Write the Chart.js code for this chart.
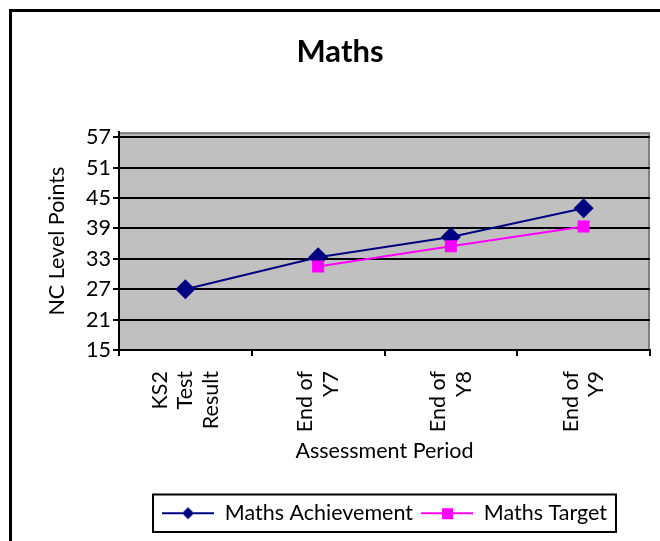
<!DOCTYPE html>
<html>
<head>
<meta charset="utf-8">
<title>Maths</title>
<script src="https://cdn.jsdelivr.net/npm/chart.js@4.4.1/dist/chart.umd.min.js"></script>
<style>
    html, body { margin: 0; padding: 0; background: #fff; overflow: hidden; }
    #frame {
        position: absolute; left: 9px; top: 9px;
        width: 660px; height: 540px;
        border-top: 3px solid #000; border-left: 3px solid #000;
    }
    #chart { display: block; }
</style>
</head>
<body>
<div id="frame"><canvas id="chart" width="648" height="529"></canvas></div>
<script>
// chart data
const periods = [['KS2', 'Test', 'Result'], ['End of', 'Y7'], ['End of', 'Y8'], ['End of', 'Y9']];
const achievement = [27, 33.3, 37.3, 43];
const target = [null, 31.5, 35.5, 39.4];
const yTicks = [15, 21, 27, 33, 39, 45, 51, 57];

const NAVY = '#000080';
const PINK = '#ff00ff';
const TEXT_SIZE = 21.5;

Chart.defaults.font.family = 'Lato';
Chart.defaults.color = '#000';

// little line + marker pictures for the legend
function legendIcon(color, shape) {
    const c = document.createElement('canvas');
    c.width = 52;
    c.height = 20;
    const g = c.getContext('2d');
    g.strokeStyle = color;
    g.lineWidth = 2;
    g.beginPath();
    g.moveTo(0, 10);
    g.lineTo(52, 10);
    g.stroke();
    g.fillStyle = color;
    if (shape === 'diamond') {
        g.beginPath();
        g.moveTo(26, 4); g.lineTo(32, 10); g.lineTo(26, 16); g.lineTo(20, 10);
        g.closePath();
        g.fill();
    } else {
        g.fillRect(21, 5, 11, 11);
    }
    return c;
}
const icons = [legendIcon(NAVY, 'diamond'), legendIcon(PINK, 'square')];

const plotBackground = {
    id: 'plotBackground',
    beforeDraw(chart) {
        const { ctx, chartArea: a } = chart;
        ctx.save();
        ctx.fillStyle = '#c0c0c0';
        ctx.fillRect(a.left, a.top, a.right - a.left, a.bottom - a.top);
        ctx.strokeStyle = '#808080';
        ctx.lineWidth = 2;
        ctx.strokeRect(a.left, a.top + 1, a.right - a.left - 1, a.bottom - a.top - 1);
        ctx.restore();

        // centre the wrapped (rotated) category labels on their category
        const x = chart.scales.x;
        const lh = x.options.ticks.font.size * 1.2;
        x.getLabelItems().forEach(item => {
            if (item._centred) return;
            const n = Array.isArray(item.label) ? item.label.length : 1;
            item.options.translation[0] -= (n - 1) * lh / 2;
            item._centred = true;
        });
    }
};

const legendFrame = {
    id: 'legendFrame',
    afterDraw(chart) {
        const boxes = chart.legend.legendHitBoxes;
        if (!boxes || !boxes.length) return;
        const first = boxes[0];
        const last = boxes[boxes.length - 1];
        const { ctx } = chart;
        ctx.save();
        ctx.strokeStyle = '#000';
        ctx.lineWidth = 2;
        ctx.strokeRect(first.left - 9, first.top - 8,
            last.left + last.width - first.left + 18, first.height + 16);
        ctx.restore();
    }
};

const ctx = document.getElementById('chart').getContext('2d');
new Chart(ctx, {
    type: 'line',
    data: {
        labels: periods,
        datasets: [
            {
                label: 'Maths Achievement',
                data: achievement,
                borderColor: NAVY,
                backgroundColor: NAVY,
                borderWidth: 2,
                pointStyle: 'rectRot',
                pointRadius: 10,
                pointBorderWidth: 0,
                order: 1
            },
            {
                label: 'Maths Target',
                data: target,
                borderColor: PINK,
                backgroundColor: PINK,
                borderWidth: 2,
                pointStyle: 'rect',
                pointRadius: 8.5,
                pointBorderWidth: 0,
                order: 0
            }
        ]
    },
    options: {
        responsive: false,
        animation: false,
        layout: { padding: { left: 17, right: 9, top: 0, bottom: 7 } },
        plugins: {
            title: {
                display: true,
                text: 'Maths',
                font: { size: 31, weight: 'bold' },
                padding: { top: 21, bottom: 62 }
            },
            legend: {
                position: 'bottom',
                fullSize: false,
                labels: {
                    usePointStyle: true,
                    pointStyleWidth: 52,
                    padding: 8,
                    font: { size: TEXT_SIZE },
                    generateLabels: chart => chart.data.datasets.map((ds, i) => ({
                        text: ds.label,
                        pointStyle: icons[i],
                        fillStyle: ds.borderColor,
                        strokeStyle: ds.borderColor,
                        lineWidth: 0,
                        hidden: false,
                        datasetIndex: i,
                        fontColor: '#000'
                    }))
                }
            },
            tooltip: { enabled: false }
        },
        scales: {
            x: {
                offset: true,
                grid: { offset: true, drawOnChartArea: false, color: '#000', lineWidth: 2, tickLength: 6 },
                border: { color: '#000', width: 2 },
                ticks: { minRotation: 90, maxRotation: 90, autoSkip: false, padding: 15, font: { size: TEXT_SIZE } },
                title: { display: true, text: 'Assessment Period', font: { size: TEXT_SIZE }, padding: { top: 0, bottom: 31 } },
                afterFit: s => { s.height = 144.5; }
            },
            y: {
                min: 15,
                max: 58,
                grid: { color: '#000', lineWidth: 2, tickLength: 6 },
                border: { color: '#000', width: 2 },
                ticks: { padding: 2, font: { size: TEXT_SIZE } },
                afterBuildTicks: s => { s.ticks = yTicks.map(v => ({ value: v })); },
                title: { display: true, text: 'NC Level Points', font: { size: TEXT_SIZE }, padding: { top: 15, bottom: 0 } },
                afterFit: s => { s.width = 90; }
            }
        }
    },
    plugins: [plotBackground, legendFrame]
});
</script>
</body>
</html>
